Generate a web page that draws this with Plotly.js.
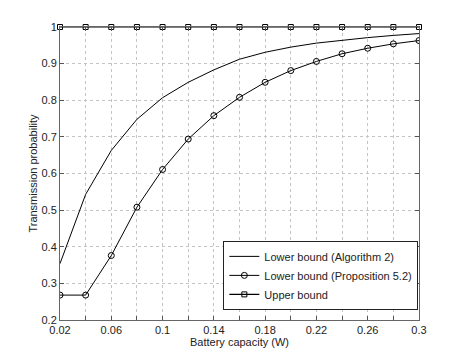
<!DOCTYPE html>
<html>
<head>
<meta charset="utf-8">
<script src="https://cdn.plot.ly/plotly-3.0.1.min.js"></script>
<style>
  html, body { margin: 0; padding: 0; background: #fff; }
  #plot { width: 462px; height: 361px; }
</style>
</head>
<body>
<div id="plot"></div>
<script>
// battery capacity values (W)
let capacity = [0.02, 0.04, 0.06, 0.08, 0.1, 0.12, 0.14, 0.16, 0.18, 0.2, 0.22, 0.24, 0.26, 0.28, 0.3];

let lowerAlgo = [0.354, 0.543, 0.663, 0.748, 0.807, 0.849, 0.883, 0.912, 0.931, 0.945, 0.956, 0.964, 0.971, 0.977, 0.982];
let lowerProp = [0.268, 0.268, 0.376, 0.508, 0.611, 0.694, 0.758, 0.808, 0.849, 0.881, 0.906, 0.927, 0.942, 0.954, 0.963];
let upper = [1, 1, 1, 1, 1, 1, 1, 1, 1, 1, 1, 1, 1, 1, 1];

let xTickVals = [0.02, 0.06, 0.1, 0.14, 0.18, 0.22, 0.26, 0.3];
let xTickText = ["0.02", "0.06", "0.1", "0.14", "0.18", "0.22", "0.26", "0.3"];
let yTickVals = [0.2, 0.3, 0.4, 0.5, 0.6, 0.7, 0.8, 0.9, 1];
let yTickText = ["0.2", "0.3", "0.4", "0.5", "0.6", "0.7", "0.8", "0.9", "1"];

let traceAlgo = {
    x: capacity,
    y: lowerAlgo,
    name: "Lower bound (Algorithm 2)",
    mode: "lines",
    line: { color: "black", width: 1 }
};

let traceProp = {
    x: capacity,
    y: lowerProp,
    name: "Lower bound (Proposition 5.2)",
    mode: "lines+markers",
    line: { color: "black", width: 1 },
    marker: { symbol: "circle-open", size: 6, color: "black", line: { width: 1 } }
};

let traceUpper = {
    x: capacity,
    y: upper,
    name: "Upper bound",
    mode: "lines+markers",
    line: { color: "black", width: 1.2 },
    marker: { symbol: "square-open", size: 5, color: "black", line: { width: 1 } },
    cliponaxis: false
};

let gridStyle = { showgrid: true, gridcolor: "#c4c4c4", griddash: "dot", gridwidth: 1 };

let layout = {
    width: 462,
    height: 361,
    paper_bgcolor: "white",
    plot_bgcolor: "white",
    font: { family: "Liberation Sans, Arial, sans-serif", size: 11, color: "#222" },
    margin: { l: 60, r: 43, t: 27, b: 41 },
    showlegend: true,
    legend: {
        x: 0.455, y: 0.27, xanchor: "left", yanchor: "top",
        bgcolor: "white", bordercolor: "#222", borderwidth: 1,
        font: { size: 11, color: "#222" },
        tracegroupgap: 0, itemwidth: 30
    },
    xaxis: Object.assign({
        range: [0.02, 0.3],
        tickvals: xTickVals,
        ticktext: xTickText,
        ticks: "inside",
        ticklen: 4,
        tickcolor: "#555",
        showline: true,
        linecolor: "#666",
        linewidth: 1,
        mirror: "allticks",
        // unlabelled grid lines every 0.02
        minor: { dtick: 0.02, tick0: 0.02, showgrid: true, gridcolor: "#c4c4c4", griddash: "dot", ticks: "inside", ticklen: 4, tickcolor: "#555" },
        zeroline: false,
        title: { text: "Battery capacity (W)", font: { size: 11, color: "#222" }, standoff: 2 }
    }, gridStyle),
    yaxis: Object.assign({
        range: [0.2, 1],
        tickvals: yTickVals,
        ticktext: yTickText,
        ticks: "inside",
        ticklen: 4,
        tickcolor: "#555",
        showline: true,
        linecolor: "#666",
        linewidth: 1,
        mirror: "allticks",
        zeroline: false,
        title: { text: "Transmission probability", font: { size: 11, color: "#222" }, standoff: 1 }
    }, gridStyle)
};

Plotly.newPlot("plot", [traceAlgo, traceProp, traceUpper], layout, { displayModeBar: false, staticPlot: true });
</script>
</body>
</html>
